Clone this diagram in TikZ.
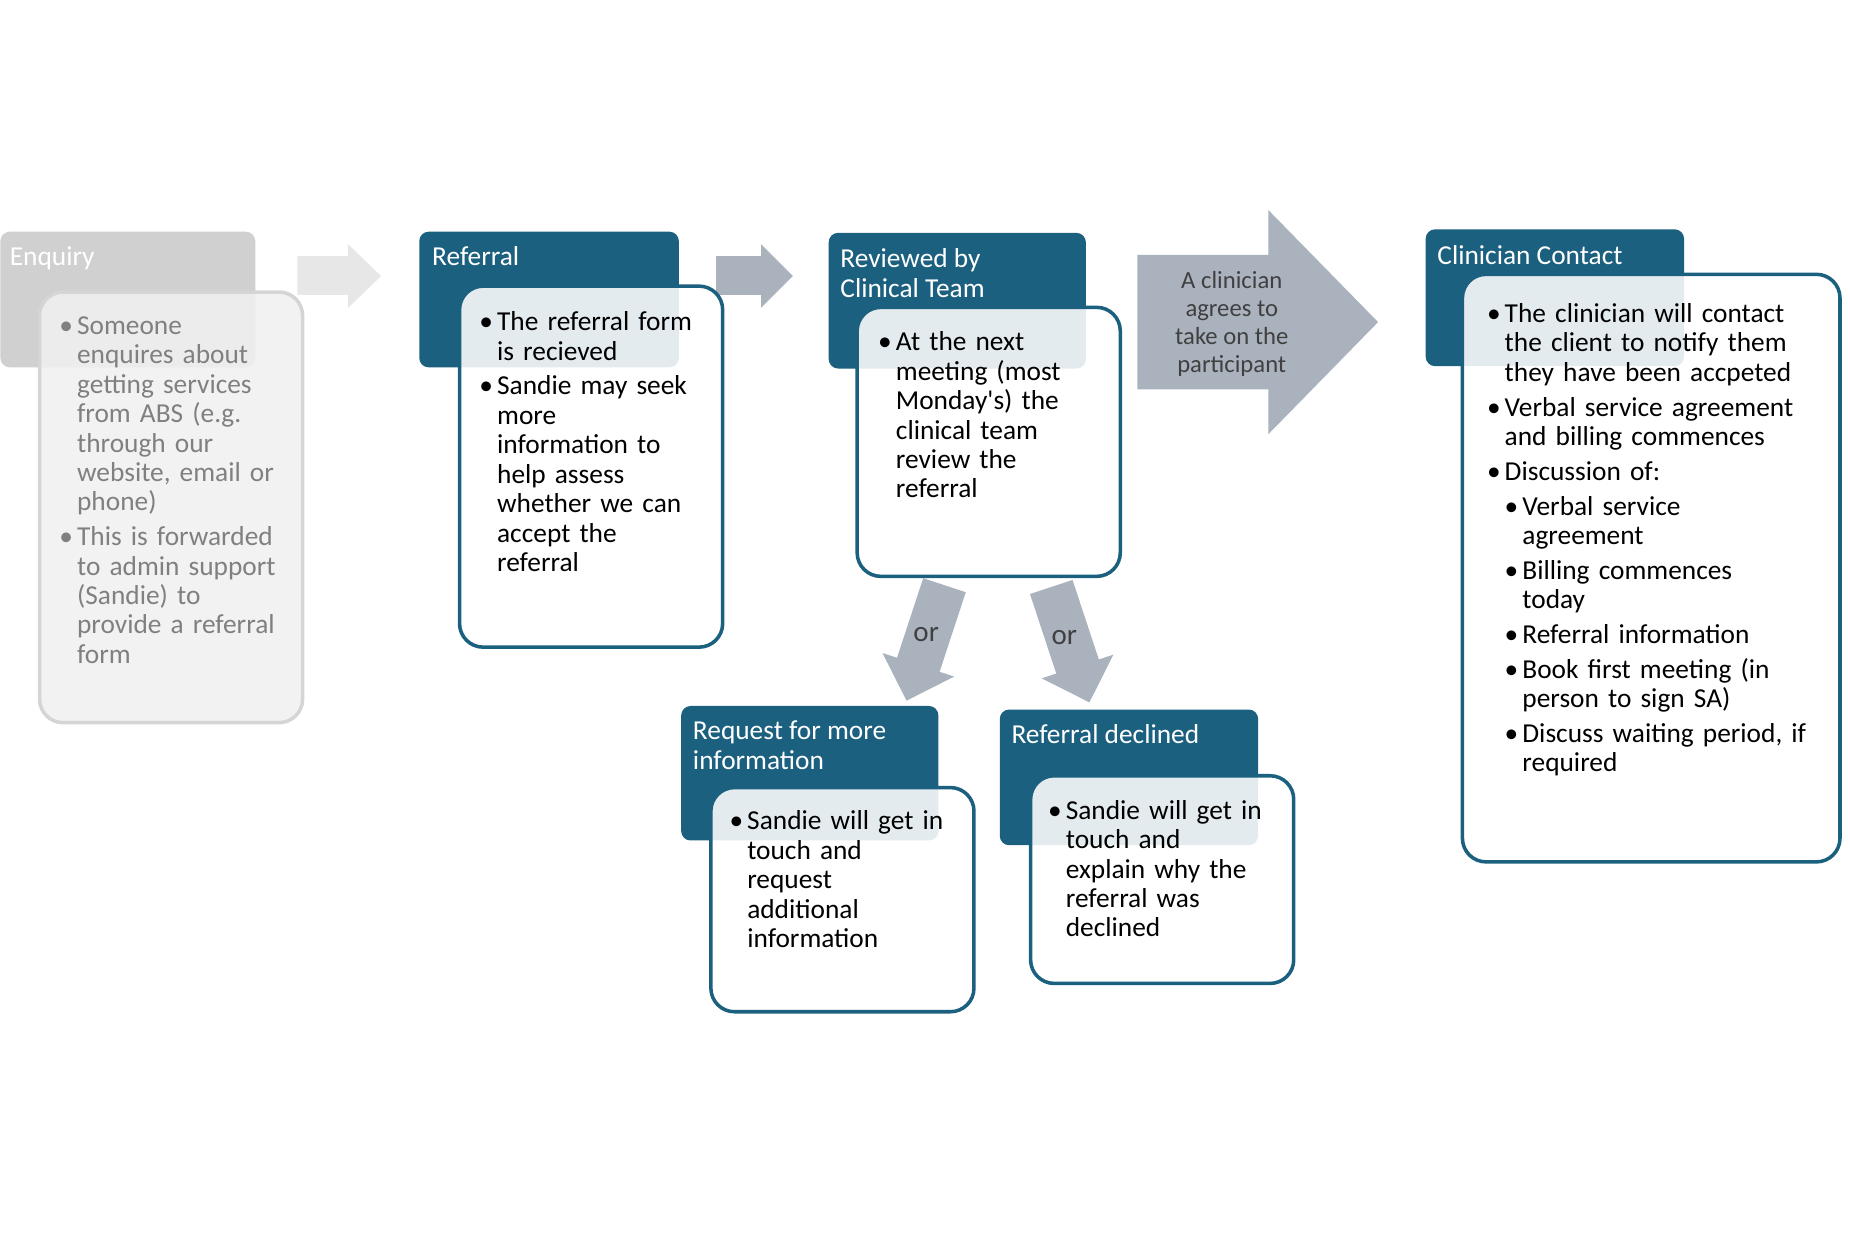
\documentclass[tikz,border=0pt]{standalone}
\usepackage{fontspec}
\setmainfont{Carlito}
\usetikzlibrary{positioning}

\newdimen\px
\px=0.02cm
\definecolor{stageblue}{HTML}{1C6080}
\definecolor{flowgray}{HTML}{A9B2BD}
\definecolor{paleflow}{HTML}{E7E7E7}
\definecolor{enqhead}{HTML}{D0D0D0}
\definecolor{enqfill}{HTML}{F0F0F0}
\definecolor{enqline}{HTML}{D5D5D5}
\definecolor{enqtext}{HTML}{808080}
\definecolor{ortext}{HTML}{404040}
\newcommand{\stagefont}{\fontsize{13.2}{14.2}\selectfont}
\newcommand{\bitem}[1]{\par\noindent\hangindent=15\px\hangafter=1\makebox[15\px][l]{\textbullet}#1\par}
\newcommand{\bsub}[1]{\par\noindent\hangindent=30\px\hangafter=1\hspace*{15\px}\makebox[15\px][l]{\textbullet}#1\par}
\newcommand{\bgap}{\vskip4.5\px}

\begin{document}
\begin{tikzpicture}[x=0.02cm, y=-0.02cm,
	hdrbox/.style={fill=stageblue, rounded corners=8\px, anchor=north west, inner sep=0,
		minimum width=219\px, minimum height=115\px},
	bodybox/.style={draw=stageblue, line width=3\px, fill=white, fill opacity=0.88,
		rounded corners=20\px, anchor=north west, inner sep=0},
	hdrtext/.style={text=white, anchor=base west, inner sep=0, align=left, font=\stagefont},
	bodytext/.style={anchor=north west, inner sep=0, text width=#1, align=left,
		font=\stagefont, text=black},
	arrowtext/.style={anchor=base, inner sep=0, align=center, text=ortext,
		font=\fontsize{11.9}{13.5}\selectfont},
	ortag/.style={inner sep=0, text=ortext, font=\fontsize{14}{16}\selectfont}]
	\useasboundingbox (0,0) rectangle (1568,1049.3);
	
	% arrows between the stages
	\fill[paleflow] (252,217) -- (295,217) -- (295,207) -- (323,234) -- (295,261) -- (295,250) -- (252,250) -- cycle;
	\fill[flowgray] (607,217) -- (645,217) -- (645,207) -- (672,234) -- (645,261) -- (645,250) -- (607,250) -- cycle;
	\fill[flowgray] (964,216) -- (1075,216) -- (1075,178) -- (1168,273) -- (1075,368) -- (1075,330) -- (964,330) -- cycle;
	\begin{scope}[shift={(800.5,496)}, rotate=-108.2]
		\fill[flowgray] (0,-19) -- (71,-19) -- (71,-32) -- (103,0) -- (71,32) -- (71,19) -- (0,19) -- cycle;
	\end{scope}
	\begin{scope}[shift={(891,497.5)}, rotate=-71.7]
		\fill[flowgray] (0,-19) -- (71,-19) -- (71,-32) -- (103,0) -- (71,32) -- (71,19) -- (0,19) -- cycle;
	\end{scope}
	\node[arrowtext] (agree) at (1044,316) {A clinician\\agrees to\\take on the\\participant};
	\node[ortag] (orleft) at (785,538) {or};
	\node[ortag] (orright) at (902,540) {or};
	
	% Enquiry
	\node[hdrbox, fill=enqhead, minimum width=216\px] (enqh) at (0,196) {};
	\node[hdrtext] (enqt) at (8,225) {Enquiry};
	\node[bodybox, draw=enqline, fill=enqfill, minimum width=223\px, minimum height=365\px] (enqb) at (32,246) {};
	\node[bodytext=195\px, text=enqtext] (enqx) at (50,258) {\bitem{Someone\newline enquires about\newline getting services\newline from ABS (e.g.\newline through our\newline website, email or\newline phone)}\bgap
		\bitem{This is forwarded\newline to admin support\newline (Sandie) to\newline provide a referral\newline form}};
	
	% Referral
	\node[hdrbox, minimum width=220\px] (refh) at (355,196) {};
	\node[hdrtext] (reft) at (366,225) {Referral};
	\node[bodybox, minimum width=223\px, minimum height=306\px] (refb) at (388,241) {};
	\node[bodytext=200\px] (refx) at (406,255) {\bitem{The referral form\newline is recieved}\bgap
		\bitem{Sandie may seek\newline more\newline information to\newline help assess\newline whether we can\newline accept the\newline referral}};
	
	% Reviewed by Clinical Team
	\node[hdrbox, minimum width=218\px] (revh) at (702,197) {};
	\node[hdrtext] (revt) at (712,252) {Reviewed by\\Clinical Team};
	\node[bodybox, minimum width=223\px, minimum height=228\px] (revb) at (725,259) {};
	\node[bodytext=200\px] (revx) at (744,272) {\bitem{At the next\newline meeting (most\newline Monday\textquotesingle s) the\newline clinical team\newline review the\newline referral}};
	
	% Clinician Contact
	\node[hdrbox, minimum height=116\px] (clih) at (1208,194) {};
	\node[hdrtext] (clit) at (1218,224) {Clinician Contact};
	\node[bodybox, minimum width=320\px, minimum height=498\px] (clib) at (1238,231) {};
	\node[bodytext=295\px] (clix) at (1260,248) {\bitem{The clinician will contact\newline the client to notify them\newline they have been accpeted}\bgap
		\bitem{Verbal service agreement\newline and billing commences}\bgap
		\bitem{Discussion of:}\bgap
		\bsub{Verbal service\newline agreement}\bgap
		\bsub{Billing commences\newline today}\bgap
		\bsub{Referral information}\bgap
		\bsub{Book first meeting (in\newline person to sign SA)}\bgap
		\bsub{Discuss waiting period, if\newline required}};
	
	% Request for more information
	\node[hdrbox, minimum width=218\px, minimum height=114\px] (reqh) at (577,598) {};
	\node[hdrtext] (reqt) at (587,652) {Request for more\\information};
	\node[bodybox, minimum width=223\px, minimum height=190\px] (reqb) at (601,666) {};
	\node[bodytext=200\px] (reqx) at (618,678) {\bitem{Sandie will get in\newline touch and\newline request\newline additional\newline information}};
	
	% Referral declined
	\node[hdrbox] (dech) at (847,601) {};
	\node[hdrtext] (dect) at (857,630) {Referral declined};
	\node[bodybox, minimum width=223\px, minimum height=176\px] (decb) at (872,656) {};
	\node[bodytext=200\px] (decx) at (888,669) {\bitem{Sandie will get in\newline touch and\newline explain why the\newline referral was\newline declined}};
\end{tikzpicture}
\end{document}
